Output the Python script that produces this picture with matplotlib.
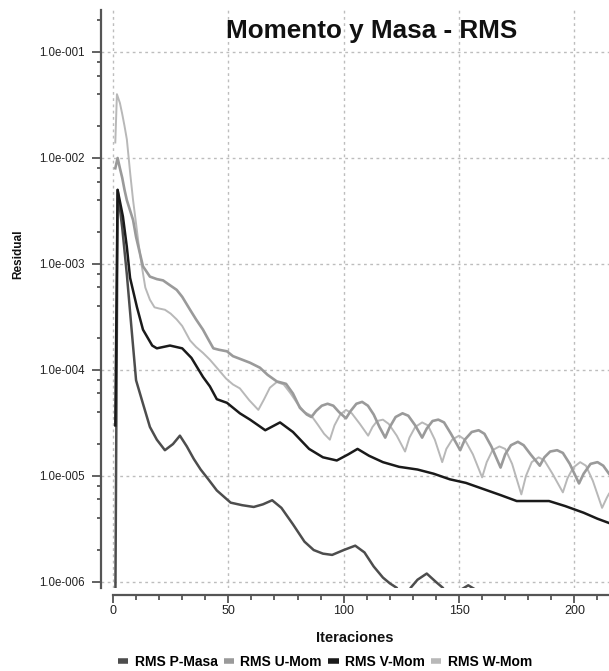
import math
import matplotlib
matplotlib.use("Agg")
import matplotlib.pyplot as plt
from matplotlib.lines import Line2D
from matplotlib.ticker import LogLocator, NullFormatter, FuncFormatter, MultipleLocator

plt.rcParams['font.family'] = ['Liberation Sans', 'DejaVu Sans']

title = "Momento y Masa - RMS"
xlabel = "Iteraciones"
ylabel = "Residual"
series_names = ["RMS P-Masa", "RMS U-Mom", "RMS V-Mom", "RMS W-Mom"]

p_iter = [1, 2, 4, 6, 8, 10, 13, 16, 19, 22.5, 26, 29, 32, 35, 38, 41, 45, 51, 56, 61, 65, 69, 73, 78, 83,
          87, 91, 95, 100, 105, 109, 113, 117, 120, 123, 126, 129, 132, 136, 140, 143, 147, 151, 154, 157, 161, 215]
p_vals = [5e-7, 5e-3, 2.2e-3, 8e-4, 2.5e-4, 8e-5, 4.8e-5, 2.9e-5, 2.2e-5, 1.75e-5, 2.0e-5, 2.4e-5, 1.9e-5,
          1.45e-5, 1.15e-5, 9.5e-6, 7.3e-6, 5.6e-6, 5.3e-6, 5.1e-6, 5.4e-6, 5.9e-6, 5.0e-6, 3.5e-6, 2.4e-6,
          2.0e-6, 1.85e-6, 1.8e-6, 2.0e-6, 2.2e-6, 1.9e-6, 1.4e-6, 1.1e-6, 9.7e-7, 8.8e-7, 6e-7, 8.8e-7,
          1.05e-6, 1.2e-6, 1.0e-6, 8.8e-7, 6e-7, 8.5e-7, 9.3e-7, 8.5e-7, 5e-7, 2e-7]

u_iter = [1, 2, 3, 4, 5, 6, 8.7, 10, 11.7, 13, 16, 19, 21.7, 24.7, 27.6, 30, 33.4, 36, 39, 41, 43.5, 46, 49.4,
          52, 56, 59.4, 63.7, 67, 71, 73, 75, 78, 81, 84, 86, 88, 90.5, 93, 95.5, 98, 101, 103, 105.5, 108,
          110.5, 113, 115.5, 118, 120, 122.5, 125.5, 128, 131, 134, 136, 138.5, 141, 143.5, 146.5, 150.5,
          152.5, 155.5, 158.5, 161, 164, 168, 170, 172.5, 175.5, 178, 181, 185, 187, 189.5, 192.5, 195, 198,
          202, 204, 207, 210, 212.5, 215]
u_vals = [8e-3, 1.0e-2, 8e-3, 6.5e-3, 5e-3, 4e-3, 2.6e-3, 1.8e-3, 1.25e-3, 9.5e-4, 7.6e-4, 7.2e-4, 7e-4,
          6.3e-4, 5.7e-4, 4.9e-4, 3.7e-4, 3e-4, 2.4e-4, 2e-4, 1.6e-4, 1.55e-4, 1.5e-4, 1.35e-4, 1.25e-4,
          1.17e-4, 1.05e-4, 9e-5, 7.8e-5, 7.6e-5, 7.4e-5, 6e-5, 4.4e-5, 3.8e-5, 3.6e-5, 4.1e-5, 4.6e-5,
          4.8e-5, 4.6e-5, 4.0e-5, 3.5e-5, 4.1e-5, 4.8e-5, 5.0e-5, 4.6e-5, 3.8e-5, 2.9e-5, 2.3e-5, 2.9e-5,
          3.6e-5, 3.9e-5, 3.7e-5, 3.0e-5, 2.3e-5, 2.8e-5, 3.3e-5, 3.4e-5, 3.2e-5, 2.5e-5, 1.75e-5, 2.2e-5,
          2.6e-5, 2.7e-5, 2.5e-5, 1.9e-5, 1.2e-5, 1.6e-5, 1.95e-5, 2.1e-5, 1.95e-5, 1.6e-5, 1.25e-5, 1.5e-5,
          1.7e-5, 1.75e-5, 1.65e-5, 1.3e-5, 8.5e-6, 1.05e-5, 1.3e-5, 1.35e-5, 1.25e-5, 1.05e-5]

v_iter = [1, 2, 4.3, 6, 7.4, 10.4, 13, 17, 19, 24.7, 30, 34, 39, 42, 45, 49.4, 55, 59.4, 63, 66, 72.4, 78, 85,
          91, 97, 102, 106, 111, 117, 124, 132, 139, 146, 153, 160, 168, 175, 182, 189, 196, 204, 210, 215]
v_vals = [3e-5, 5e-3, 2.8e-3, 1.45e-3, 7.4e-4, 3.9e-4, 2.4e-4, 1.7e-4, 1.6e-4, 1.7e-4, 1.6e-4, 1.3e-4, 8.6e-5,
          7e-5, 5.3e-5, 4.9e-5, 3.9e-5, 3.4e-5, 3.0e-5, 2.7e-5, 3.2e-5, 2.6e-5, 1.8e-5, 1.5e-5, 1.4e-5,
          1.6e-5, 1.8e-5, 1.55e-5, 1.35e-5, 1.22e-5, 1.15e-5, 1.05e-5, 9.3e-6, 8.6e-6, 7.6e-6, 6.6e-6,
          5.8e-6, 5.8e-6, 5.8e-6, 5.2e-6, 4.5e-6, 3.95e-6, 3.6e-6]

w_iter = [1, 1.7, 3, 4, 5, 6, 7.5, 8.7, 10, 11, 12.5, 14, 16, 18, 20, 22.5, 25, 27.6, 30, 33.4, 36, 39, 42,
          45, 49, 52, 55, 59, 63, 65.5, 68, 71, 74, 77, 80, 83, 86, 89, 91.5, 94, 96, 98.5, 101, 103.5, 107,
          110.6, 112.5, 114.5, 117, 119.5, 123, 126.6, 128.5, 131, 134, 136.5, 139.5, 142.7, 144.5, 147, 150,
          152.5, 156, 160, 162, 164.5, 167.5, 170, 173, 177, 179, 181.5, 184.5, 187, 190.5, 195, 197, 199.5,
          202.5, 205, 208, 212, 214, 215]
w_vals = [1.4e-2, 4e-2, 3.3e-2, 2.6e-2, 2.0e-2, 1.5e-2, 7e-3, 4e-3, 2.4e-3, 1.6e-3, 9.5e-4, 6e-4, 4.6e-4,
          3.9e-4, 3.8e-4, 3.7e-4, 3.4e-4, 3e-4, 2.6e-4, 1.9e-4, 1.65e-4, 1.45e-4, 1.25e-4, 1.05e-4, 8.3e-5,
          7.3e-5, 6.7e-5, 5.2e-5, 4.2e-5, 5.3e-5, 6.8e-5, 7.7e-5, 7.3e-5, 6.0e-5, 4.8e-5, 4.0e-5, 3.7e-5,
          3.0e-5, 2.5e-5, 2.2e-5, 3.0e-5, 3.8e-5, 4.2e-5, 3.9e-5, 3.1e-5, 2.4e-5, 2.9e-5, 3.3e-5, 3.4e-5,
          3.1e-5, 2.4e-5, 1.7e-5, 2.3e-5, 2.9e-5, 3.2e-5, 3.0e-5, 2.2e-5, 1.35e-5, 1.8e-5, 2.2e-5, 2.4e-5,
          2.2e-5, 1.6e-5, 9.7e-6, 1.35e-5, 1.75e-5, 1.9e-5, 1.8e-5, 1.3e-5, 6.7e-6, 1.0e-5, 1.35e-5, 1.5e-5,
          1.4e-5, 1.05e-5, 7e-6, 9.5e-6, 1.2e-5, 1.35e-5, 1.25e-5, 9e-6, 5e-6, 6.2e-6, 6.8e-6]

colors = ["#4d4d4d", "#9a9a9a", "#1a1a1a", "#b8b8b8"]
widths = [1.8, 1.9, 1.8, 1.4]

W, H = 609, 671
fig = plt.figure(figsize=(W / 100, H / 100), dpi=100)
ax = fig.add_axes([101 / W, 1 - 588 / H, 1 - 101 / W, (588 - 10) / H])

data = [(p_iter, p_vals), (u_iter, u_vals), (v_iter, v_vals), (w_iter, w_vals)]
order = [3, 1, 0, 2]
for i in order:
    xs, ys = data[i]
    ax.plot(xs, ys, color=colors[i], lw=widths[i], solid_joinstyle='round', zorder=3 + (i == 2))

ax.set_yscale('log')
ax.set_xlim(-5.2, 215)
ax.set_ylim(8.77e-7, 0.249)

ax.yaxis.set_major_locator(LogLocator(base=10, numticks=20))
ax.yaxis.set_minor_locator(LogLocator(base=10, subs=[2, 4, 6, 8], numticks=20))
ax.yaxis.set_minor_formatter(NullFormatter())
ax.yaxis.set_major_formatter(FuncFormatter(lambda v, p: "1.0e-%03d" % round(-math.log10(v))))
ax.xaxis.set_major_locator(MultipleLocator(50))
ax.xaxis.set_minor_locator(MultipleLocator(10))

for s in ['top', 'right']:
    ax.spines[s].set_visible(False)
ax.spines['left'].set_color('#555555')
ax.spines['left'].set_linewidth(1.6)
ax.spines['bottom'].set_color('#555555')
ax.spines['bottom'].set_linewidth(1.6)
ax.spines['bottom'].set_position(('outward', 5))
ax.spines['bottom'].set_bounds(0, 215)

ax.tick_params(axis='y', which='major', length=6.5, width=1.3, color='#555555', pad=5.5,
               labelsize=8.3, labelcolor='#222222')
ax.tick_params(axis='y', which='minor', length=3.2, width=1.3, color='#555555')
ax.tick_params(axis='x', which='major', length=5.5, width=1.3, color='#555555', pad=2,
               labelsize=9, labelcolor='#222222')
ax.tick_params(axis='x', which='minor', length=3.5, width=1.3, color='#555555')

ax.grid(True, which='major', color='#bdbdbd', lw=1.0, linestyle=(0, (2, 2.5)))
ax.set_axisbelow(True)

fig.text(372 / W, 1 - 31 / H, title, ha='center', va='center', fontsize=18.8, fontweight='bold', color='#111111')
fig.text(18 / W, 1 - 254 / H, ylabel, ha='center', va='center', rotation=90, fontsize=8.5,
         fontweight='bold', color='#111111')
fig.text(355 / W, 1 - 638 / H, xlabel, ha='center', va='center', fontsize=10.5, fontweight='bold', color='#111111')

handles = [Line2D([0], [0], color=c, lw=4, solid_capstyle='butt') for c in colors]
fig.legend(handles, series_names, loc='center', bbox_to_anchor=(325 / W, 1 - 662 / H), ncol=4,
           frameon=False, handlelength=0.75, handletextpad=0.45, columnspacing=0.45,
           prop={'weight': 'bold', 'size': 10}, borderpad=0, borderaxespad=0)

fig.savefig("out.png", dpi=100)
